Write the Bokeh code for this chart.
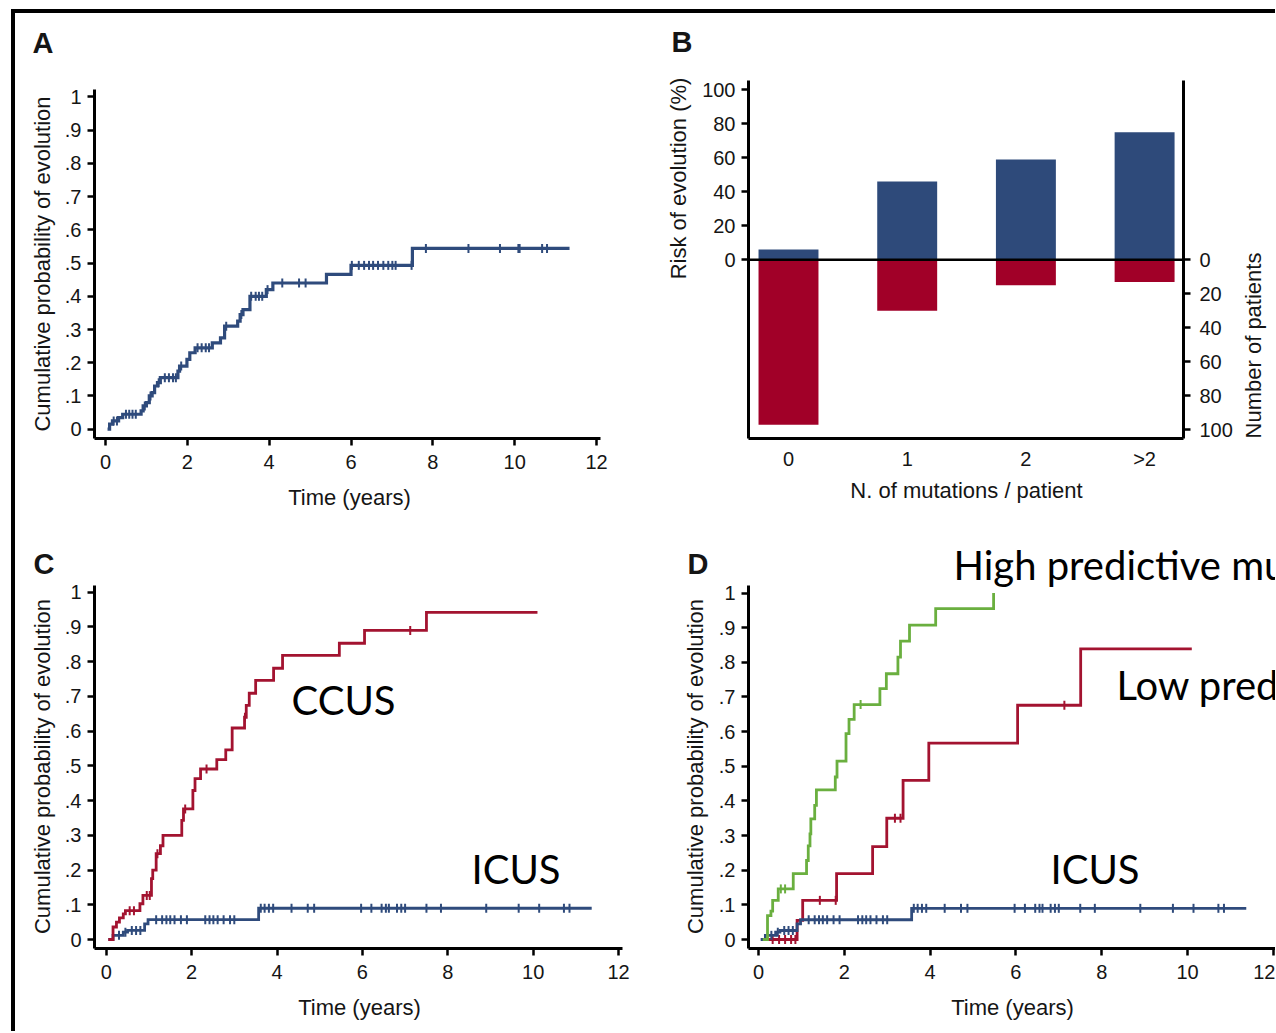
import numpy as np
from bokeh.plotting import figure
from bokeh.models import Range1d, LinearAxis, FixedTicker, Label, Div, Spacer
from bokeh.layouts import row, column
from bokeh.embed import file_html
from bokeh.resources import INLINE

# ---------------- data ----------------
years_ticks = [0, 2, 4, 6, 8, 10, 12]
prob_ticks = [0.0, 0.1, 0.2, 0.3, 0.4, 0.5, 0.6, 0.7, 0.8, 0.9, 1.0]
prob_tick_labels = ["0", ".1", ".2", ".3", ".4", ".5", ".6", ".7", ".8", ".9", "1"]

# Panel A: all patients
all_time = [0.05, 0.10, 0.17, 0.32, 0.42, 0.87, 0.92, 1.00, 1.07, 1.14, 1.20, 1.27, 1.34, 1.77, 1.81,
            1.99, 2.06, 2.19, 2.61, 2.81, 2.91, 3.23, 3.29, 3.36, 3.53, 3.93, 4.09, 5.40, 6.00, 7.50, 11.34]
all_prob = [0, .015, .025, .035, .045, .055, .070, .080, .100, .110, .130, .140, .155, .175, .190,
            .210, .230, .245, .260, .275, .310, .325, .345, .360, .400, .420, .440, .466, .493, .544, .544]
all_censor = [0.2, 0.28, 0.5, 0.58, 0.66, 0.74, 0.96, 1.1, 1.3, 1.45, 1.55, 1.65, 1.72, 1.85, 2.25, 2.35,
              2.45, 2.53, 2.95, 3.32, 3.56, 3.67, 3.75, 3.83, 3.96, 4.32, 4.73, 4.89, 6.02, 6.19, 6.32,
              6.44, 6.54, 6.66, 6.79, 6.91, 7.01, 7.09, 7.48, 7.83, 8.87, 9.64, 10.09, 10.12, 10.67, 10.79]

# Panel B
mutation_cats = ["0", "1", "2", ">2"]
risk_pct = [6, 46, 59, 75]
n_patients = [97, 30, 15, 13]
bar_ticks = [0, 20, 40, 60, 80, 100]

# Panel C / D: ICUS
icus_time = [0.05, 0.16, 0.40, 0.50, 0.90, 0.98, 3.57, 11.37]
icus_prob = [0, .012, .021, .026, .045, .057, .090, .090]
icus_censor = [0.3, 0.45, 0.6, 0.7, 0.8, 1.17, 1.31, 1.41, 1.5, 1.6, 1.75, 1.89, 2.32, 2.42, 2.51, 2.61,
               2.75, 2.9, 3.0, 3.62, 3.71, 3.81, 3.91, 4.34, 4.72, 4.87, 5.97, 6.21, 6.45, 6.55, 6.62,
               6.81, 6.91, 7.0, 7.5, 7.84, 8.9, 9.66, 10.14, 10.72, 10.85]

# Panel C: CCUS
ccus_time = [0.05, 0.16, 0.24, 0.31, 0.40, 0.45, 0.79, 0.86, 1.06, 1.09, 1.17, 1.27, 1.33, 1.77, 1.81,
             2.03, 2.08, 2.21, 2.59, 2.80, 2.95, 3.24, 3.28, 3.35, 3.50, 3.92, 4.13, 5.46, 6.05, 7.50, 10.10]
ccus_prob = [0, .036, .050, .062, .074, .083, .103, .127, .175, .200, .247, .270, .300, .343, .376,
             .429, .463, .491, .518, .546, .609, .640, .674, .709, .746, .781, .818, .853, .890, .942, .942]
ccus_censor = [0.55, 0.65, 0.95, 1.02, 1.2, 1.85, 2.35, 3.25, 7.12]

# Panel D: high / low predictive mutations
high_time = [0.10, 0.21, 0.29, 0.33, 0.46, 0.81, 1.12, 1.16, 1.20, 1.22, 1.31, 1.35, 1.79, 1.83, 2.04,
             2.11, 2.23, 2.83, 2.98, 3.25, 3.31, 3.52, 4.13, 5.48]
high_prob = [0, .069, .082, .113, .146, .190, .228, .270, .305, .348, .387, .432, .469, .515, .594,
             .635, .678, .724, .767, .815, .861, .907, .955, 1.0]
high_censor = [0.52, 0.62, 2.38]
low_time = [0.10, 0.90, 1.03, 1.82, 2.66, 2.99, 3.37, 3.97, 6.04, 7.51, 10.10]
low_prob = [0, .055, .113, .190, .268, .350, .459, .567, .676, .839, .839]
low_censor = [0.33, 0.48, 0.62, 0.76, 0.86, 1.43, 1.80, 3.18, 3.31, 7.13]

# ---------------- style ----------------
BLUE = "#2f4b7c"
RED = "#a31330"
GREEN = "#6aaf3f"
BAR_BLUE = "#2e4a7a"
BAR_RED = "#a10028"
TXT = "#151515"
FONT = "Liberation Sans"
BIG_FONT = "Lato"

# page layout (pixels)
LEFT_PAD, TOP_PAD, BAR = 11, 9, 4
GX, GY = LEFT_PAD + BAR, TOP_PAD + BAR          # grid origin on the page
W_L, W_R = 627, 633
H_TOP, H_BOT = 508, 510


class Panel:
    """A figure whose frame covers its whole canvas; page pixel <-> data helpers."""

    def __init__(self, cx, cy, cw, ch, x0, sx, y0, sy):
        self.x0, self.sx, self.y0, self.sy = x0, sx, y0, sy
        xr = Range1d((cx - x0) / sx, (cx + cw - x0) / sx)
        yr = Range1d((y0 - (cy + ch)) / sy, (y0 - cy) / sy)
        self.p = figure(width=cw, height=ch, x_range=xr, y_range=yr, output_backend="svg",
                        toolbar_location=None, x_axis_location=None, y_axis_location=None,
                        title_location=None, min_border=0)
        self.p.outline_line_color = None
        self.p.grid.visible = False

    def px(self, x):
        return (x - self.x0) / self.sx

    def py(self, y):
        return (self.y0 - y) / self.sy

    def text(self, s, x, y, size="22px", font=FONT, style="normal", align="center", angle=0.0,
             color=TXT):
        self.p.add_layout(Label(x=self.px(x), y=self.py(y), text=s, text_font=font,
                                text_font_size=size, text_font_style=style, text_color=color,
                                text_align=align, text_baseline="middle", angle=angle))


def style_axis(ax, standoff=6, tick_out=7):
    ax.axis_line_width = 3
    ax.axis_line_color = "black"
    ax.major_tick_line_width = 2.5
    ax.major_tick_line_color = "black"
    ax.major_tick_out = tick_out
    ax.major_tick_in = 0
    ax.minor_tick_line_color = None
    ax.major_label_text_font = FONT
    ax.major_label_text_font_size = "20px"
    ax.major_label_text_color = TXT
    ax.major_label_standoff = standoff


def km_axes(P, left_x, top_y, bottom_y, right_x):
    yax = LinearAxis(fixed_location=P.px(left_x), bounds=(P.py(bottom_y), P.py(top_y)),
                     ticker=FixedTicker(ticks=prob_ticks),
                     major_label_overrides=dict(zip(prob_ticks, prob_tick_labels)))
    style_axis(yax, standoff=6)
    P.p.add_layout(yax, "left")
    xax = LinearAxis(fixed_location=P.py(bottom_y), bounds=(P.px(left_x), P.px(right_x)),
                     ticker=FixedTicker(ticks=years_ticks))
    style_axis(xax, standoff=9)
    P.p.add_layout(xax, "below")


def km_curve(p, t, s, cens, color, lw=3):
    p.step(t, s, mode="after", line_color=color, line_width=lw, line_join="miter")
    idx = np.searchsorted(np.array(t), np.array(cens), side="right") - 1
    cy = [s[i] for i in idx]
    p.scatter(cens, cy, marker="dash", angle=np.pi / 2, size=9, line_color=color, line_width=2)


YLABEL = "Cumulative probability of evolution"
XLABEL = "Time (years)"

# ---------------- Panel A ----------------
A = Panel(GX, GY, W_L, H_TOP, x0=105.0, sx=40.92, y0=428.7, sy=332.3)
km_axes(A, left_x=94, top_y=89, bottom_y=438, right_x=600)
km_curve(A.p, all_time, all_prob, all_censor, BLUE, lw=3.2)
A.text("A", 32, 42, size="29px", style="bold", align="left")
A.text(YLABEL, 42, 263.5, angle=np.pi / 2)
A.text(XLABEL, 349, 497)

# ---------------- Panel B ----------------
B = Panel(GX + W_L, GY, W_R, H_TOP, x0=788.0, sx=118.7, y0=259.3, sy=1.70)
pB = B.p
cat_pos = list(range(len(mutation_cats)))
pB.extra_y_ranges = {"patients": Range1d(-pB.y_range.start, -pB.y_range.end)}
pB.vbar(x=cat_pos, top=risk_pct, bottom=0, width=0.505, fill_color=BAR_BLUE, line_color=None)
pB.vbar(x=cat_pos, top=0, bottom=n_patients, width=0.505, y_range_name="patients",
        fill_color=BAR_RED, line_color=None)
b_left, b_right = B.px(748), B.px(1183)
b_bottom, b_top = B.py(438), B.py(80)
pB.segment(x0=[b_left], y0=[0], x1=[b_right], y1=[0], line_color="black", line_width=2.5)
lax = LinearAxis(fixed_location=b_left, bounds=(b_bottom, b_top), ticker=FixedTicker(ticks=bar_ticks))
style_axis(lax, standoff=6)
pB.add_layout(lax, "left")
rax = LinearAxis(fixed_location=b_right, y_range_name="patients", bounds=(-b_top, -b_bottom),
                 ticker=FixedTicker(ticks=bar_ticks))
style_axis(rax, standoff=9)
pB.add_layout(rax, "right")
bax = LinearAxis(fixed_location=b_bottom, bounds=(b_left, b_right), ticker=FixedTicker(ticks=cat_pos),
                 major_label_overrides=dict(zip(cat_pos, mutation_cats)))
style_axis(bax, standoff=9, tick_out=0)
bax.major_tick_line_color = None
pB.add_layout(bax, "below")
B.text("B", 671, 41, size="29px", style="bold", align="left")
B.text("Risk of evolution (%)", 678, 178, angle=np.pi / 2)
B.text("Number of patients", 1253, 345, angle=np.pi / 2)
B.text("N. of mutations / patient", 966, 490)

# ---------------- Panel C ----------------
C = Panel(GX, GY + H_TOP, W_L, H_BOT, x0=105.7, sx=42.7, y0=939.0, sy=347.3)
km_axes(C, left_x=94, top_y=585, bottom_y=948.3, right_x=622)
km_curve(C.p, icus_time, icus_prob, icus_censor, BLUE, lw=2.8)
km_curve(C.p, ccus_time, ccus_prob, ccus_censor, RED, lw=2.8)
C.text("C", 33, 563, size="29px", style="bold", align="left")
C.text(YLABEL, 42, 766, angle=np.pi / 2)
C.text(XLABEL, 359, 1007)
C.text("CCUS", 291, 699, size="40px", font=BIG_FONT, align="left", color="black")
C.text("ICUS", 471, 868, size="40px", font=BIG_FONT, align="left", color="black")

# ---------------- Panel D ----------------
D = Panel(GX + W_L, GY + H_TOP, W_R, H_BOT, x0=758.0, sx=42.9, y0=939.0, sy=346.5)
km_axes(D, left_x=748, top_y=585, bottom_y=948.3, right_x=1300)
km_curve(D.p, low_time, low_prob, low_censor, RED, lw=2.8)
km_curve(D.p, icus_time, icus_prob, icus_censor, BLUE, lw=2.8)
km_curve(D.p, high_time, high_prob, high_censor, GREEN, lw=2.8)
D.text("D", 687, 563, size="29px", style="bold", align="left")
D.text(YLABEL, 695, 766, angle=np.pi / 2)
D.text(XLABEL, 1012, 1007)
D.text("High predictive mutations", 953, 564, size="40px", font=BIG_FONT, align="left", color="black")
D.text("Low predictive mutations", 1116, 684, size="40px", font=BIG_FONT, align="left", color="black")
D.text("ICUS", 1050, 868, size="40px", font=BIG_FONT, align="left", color="black")

# ---------------- layout with frame lines ----------------
grid = column(row(A.p, B.p), row(C.p, D.p))
top_bar = Div(text="", width=BAR + W_L + W_R, height=BAR, margin=0,
              styles={"background-color": "black"})
left_bar = Div(text="", width=BAR, height=H_TOP + H_BOT, margin=0,
               styles={"background-color": "black"})
layout = row(Spacer(width=LEFT_PAD, height=1),
             column(Spacer(width=1, height=TOP_PAD), top_bar, row(left_bar, grid)))

open("out.html", "w").write(file_html(layout, INLINE))
